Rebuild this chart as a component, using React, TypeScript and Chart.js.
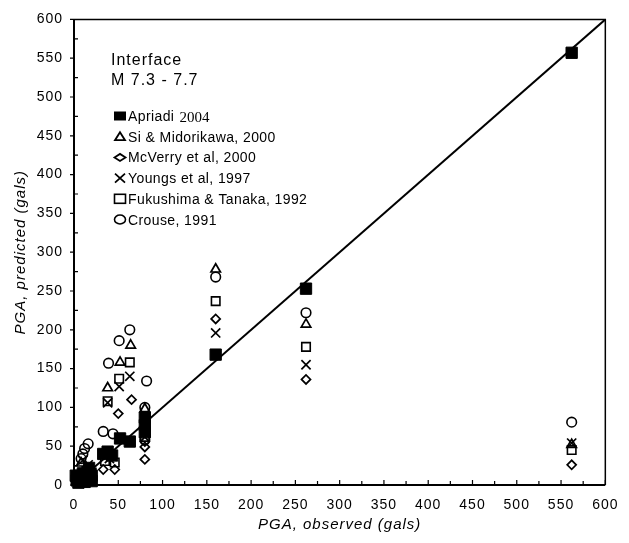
import React, { useEffect, useRef } from "react";
import { Chart, registerables } from "chart.js";

Chart.register(...registerables);

const FONT = '"Liberation Sans", Arial, Helvetica, sans-serif';
const SERIF = '"Liberation Serif", "Times New Roman", serif';

// Axis range and ticks
const AXIS_MIN = 0;
const AXIS_MAX = 600;
const MAJOR_STEP = 50;
const MINOR_STEP = 25;

const X_TITLE = "PGA, observed (gals)";
const Y_TITLE = "PGA, predicted (gals)";
const NOTE_LINES = ["Interface", "M 7.3 - 7.7"];

// 1:1 line
const lineX = [0, 600];
const lineY = [0, 600];

// Apriadi 2004 (filled squares)
const apriadiX = [562, 262, 160, 80, 80, 80, 63, 52, 43, 38, 33, 17, 20, 15, 12, 8, 5, 3, 2, 18, 10, 10, 15, 6, 20];
const apriadiY = [557, 253, 168, 87, 77, 68, 56, 60, 38, 43, 40, 22, 5, 10, 4, 8, 3, 6, 12, 14, 15, 6, 14, 12, 12];

// Si & Midorikawa, 2000 (triangles)
const siX = [562, 262, 160, 64, 52, 38, 80, 8, 14];
const siY = [52, 207, 278, 180, 158, 125, 98, 28, 22];

// McVerry et al, 2000 (diamonds)
const mcverryX = [562, 262, 160, 65, 50, 80, 80, 80, 33, 46, 5, 12, 18];
const mcverryY = [26, 136, 214, 110, 92, 56, 49, 33, 20, 20, 8, 10, 12];

// Youngs et al, 1997 (crosses)
const youngsX = [562, 262, 160, 63, 51, 38, 80, 10, 16, 40];
const youngsY = [54, 155, 196, 140, 127, 106, 72, 32, 26, 34];

// Fukushima & Tanaka, 1992 (open squares)
const fukushimaX = [562, 262, 160, 63, 51, 38, 80, 35, 46, 14, 20];
const fukushimaY = [45, 178, 237, 158, 137, 108, 62, 31, 29, 18, 16];

// Crouse, 1991 (circles)
const crouseX = [562, 262, 160, 63, 51, 39, 82, 80, 33, 44, 80, 16, 12, 10, 8];
const crouseY = [81, 222, 268, 200, 186, 157, 134, 100, 69, 66, 58, 53, 47, 40, 34];

const seriesNames = [
  "Apriadi",
  "Si & Midorikawa, 2000",
  "McVerry et al, 2000",
  "Youngs et al, 1997",
  "Fukushima & Tanaka, 1992",
  "Crouse, 1991",
];
const apriadiSuffix = "2004";

const toPts = (xs: number[], ys: number[]) => xs.map((x, i) => ({ x, y: ys[i] }));

type LegendKind = "rectFill" | "triangle" | "diamond" | "x" | "rectOpen" | "circle";
const legendKinds: LegendKind[] = ["rectFill", "triangle", "diamond", "x", "rectOpen", "circle"];

function drawLegendMarker(ctx: CanvasRenderingContext2D, kind: LegendKind, cx: number, cy: number) {
  ctx.save();
  ctx.strokeStyle = "#000";
  ctx.fillStyle = "#000";
  ctx.lineWidth = 1.8;
  ctx.beginPath();
  switch (kind) {
    case "rectFill":
      ctx.fillRect(cx - 6, cy - 4.5, 12, 9);
      break;
    case "triangle":
      ctx.moveTo(cx, cy - 4.5);
      ctx.lineTo(cx + 5, cy + 3.5);
      ctx.lineTo(cx - 5, cy + 3.5);
      ctx.closePath();
      ctx.stroke();
      break;
    case "diamond":
      ctx.moveTo(cx - 5.5, cy);
      ctx.lineTo(cx, cy - 3.5);
      ctx.lineTo(cx + 5.5, cy);
      ctx.lineTo(cx, cy + 3.5);
      ctx.closePath();
      ctx.stroke();
      break;
    case "x":
      ctx.moveTo(cx - 5, cy - 4.5);
      ctx.lineTo(cx + 5, cy + 4.5);
      ctx.moveTo(cx + 5, cy - 4.5);
      ctx.lineTo(cx - 5, cy + 4.5);
      ctx.stroke();
      break;
    case "rectOpen":
      ctx.lineWidth = 1.6;
      ctx.strokeRect(cx - 5.5, cy - 4.5, 11, 9);
      break;
    case "circle":
      ctx.lineWidth = 1.6;
      ctx.ellipse(cx, cy, 5.5, 4.5, 0, 0, Math.PI * 2);
      ctx.stroke();
      break;
  }
  ctx.restore();
}

const framePlugin = {
  id: "framePlugin",
  beforeDraw(chart: any) {
    (chart.ctx as any).letterSpacing = "1px";
  },
  afterDraw(chart: any) {
    const ctx: CanvasRenderingContext2D = chart.ctx;
    const { left, right, top, bottom } = chart.chartArea;
    const xs = chart.scales.x;
    const ys = chart.scales.y;
    ctx.save();
    ctx.strokeStyle = "#000";
    // frame
    ctx.lineWidth = 2;
    ctx.beginPath();
    ctx.moveTo(left, top);
    ctx.lineTo(left, bottom);
    ctx.lineTo(right, bottom);
    ctx.stroke();
    ctx.lineWidth = 1.5;
    ctx.beginPath();
    ctx.moveTo(left, top);
    ctx.lineTo(right, top);
    ctx.lineTo(right, bottom);
    ctx.stroke();
    // ticks
    ctx.lineWidth = 1.2;
    ctx.beginPath();
    for (let v = AXIS_MIN; v <= AXIS_MAX; v += MINOR_STEP) {
      const major = v % MAJOR_STEP === 0;
      const py = ys.getPixelForValue(v);
      if (major) {
        ctx.moveTo(left - 4, py);
        ctx.lineTo(left, py);
      } else {
        ctx.moveTo(left, py);
        ctx.lineTo(left + 4, py);
      }
      const px = xs.getPixelForValue(v);
      ctx.moveTo(px, bottom);
      ctx.lineTo(px, bottom - (major ? 5 : 4));
    }
    ctx.stroke();

    // note text
    ctx.fillStyle = "#000";
    ctx.textAlign = "left";
    ctx.textBaseline = "alphabetic";
    (ctx as any).letterSpacing = "1px";
    ctx.font = `16px ${FONT}`;
    ctx.fillText(NOTE_LINES[0], 111, 65);
    ctx.fillText(NOTE_LINES[1], 111, 85);

    // legend
    const baseY = 121;
    const stepY = 20.7;
    seriesNames.forEach((name, i) => {
      const by = baseY + i * stepY;
      drawLegendMarker(ctx, legendKinds[i], 120, by - 5);
      (ctx as any).letterSpacing = "0.4px";
      ctx.font = `14px ${FONT}`;
      ctx.fillStyle = "#000";
      ctx.fillText(name, 128, by);
      if (i === 0) {
        const w = ctx.measureText(name).width;
        (ctx as any).letterSpacing = "0px";
        ctx.font = `15px ${SERIF}`;
        ctx.fillText(apriadiSuffix, 128 + w + 5, by + 1);
      }
    });
    ctx.restore();
  },
};

export default function App() {
  const ref = useRef<HTMLCanvasElement | null>(null);

  useEffect(() => {
    if (!ref.current) return;
    const open = "rgba(0,0,0,0)";
    const common = { showLine: false, clip: false as any, borderColor: "#000" };
    const chart = new Chart(ref.current, {
      type: "scatter",
      data: {
        datasets: [
          {
            label: "1:1",
            data: toPts(lineX, lineY),
            showLine: true,
            borderColor: "#000",
            borderWidth: 2,
            pointRadius: 0,
            order: 0,
          } as any,
          {
            ...common,
            label: "Apriadi 2004",
            data: toPts(apriadiX, apriadiY),
            pointStyle: "rect",
            pointRadius: 8,
            backgroundColor: "#000",
            borderWidth: 1,
            order: 1,
          },
          {
            ...common,
            label: seriesNames[1],
            data: toPts(siX, siY),
            pointStyle: "triangle",
            pointRadius: 5.5,
            backgroundColor: open,
            borderWidth: 1.7,
            order: 2,
          },
          {
            ...common,
            label: seriesNames[2],
            data: toPts(mcverryX, mcverryY),
            pointStyle: "rectRot",
            pointRadius: 4.5,
            backgroundColor: open,
            borderWidth: 1.7,
            order: 3,
          },
          {
            ...common,
            label: seriesNames[3],
            data: toPts(youngsX, youngsY),
            pointStyle: "crossRot",
            pointRadius: 6.5,
            backgroundColor: open,
            borderWidth: 1.7,
            order: 4,
          },
          {
            ...common,
            label: seriesNames[4],
            data: toPts(fukushimaX, fukushimaY),
            pointStyle: "rect",
            pointRadius: 6,
            backgroundColor: open,
            borderWidth: 1.6,
            order: 5,
          },
          {
            ...common,
            label: seriesNames[5],
            data: toPts(crouseX, crouseY),
            pointStyle: "circle",
            pointRadius: 4.8,
            backgroundColor: open,
            borderWidth: 1.6,
            order: 6,
          },
        ],
      },
      options: {
        animation: false,
        responsive: false,
        events: [],
        layout: { padding: { left: 0, right: 22, top: 13, bottom: 0 } },
        plugins: { legend: { display: false }, tooltip: { enabled: false } },
        scales: {
          x: {
            type: "linear",
            position: "bottom",
            min: AXIS_MIN,
            max: AXIS_MAX,
            grid: { display: false, drawTicks: false },
            border: { display: false },
            ticks: {
              stepSize: MAJOR_STEP,
              padding: 12,
              color: "#000",
              maxRotation: 0,
              autoSkip: false,
              font: { family: FONT, size: 14 },
            },
            title: {
              display: true,
              text: X_TITLE,
              color: "#000",
              font: { family: FONT, size: 15, style: "italic" },
              padding: { top: 0, bottom: 9 },
            },
            afterFit: (s: any) => {
              s.height = 58;
            },
          },
          y: {
            type: "linear",
            position: "left",
            min: AXIS_MIN,
            max: AXIS_MAX,
            grid: { display: false, drawTicks: false },
            border: { display: false },
            ticks: {
              stepSize: MAJOR_STEP,
              padding: 11,
              color: "#000",
              autoSkip: false,
              font: { family: FONT, size: 14 },
            },
            title: {
              display: true,
              text: Y_TITLE,
              color: "#000",
              font: { family: FONT, size: 15, style: "italic" },
              padding: { top: 12, bottom: 0 },
            },
            afterFit: (s: any) => {
              s.width = 74;
            },
          },
        },
      } as any,
      plugins: [framePlugin],
    });
    return () => chart.destroy();
  }, []);

  return (
    <div style={{ position: "fixed", left: 0, top: 0, width: 629, height: 543, background: "#fff" }}>
      <canvas ref={ref} width={629} height={543} style={{ display: "block" }} />
    </div>
  );
}
